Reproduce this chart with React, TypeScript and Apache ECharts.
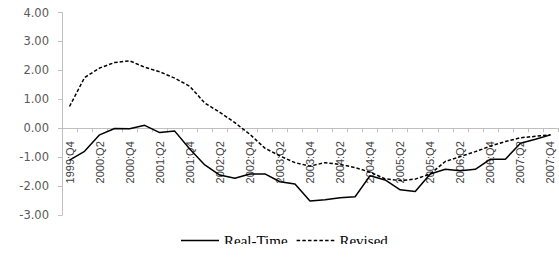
import React, { useEffect, useRef } from "react";
import * as echarts from "echarts";

const categories: string[] = [
  "1999:Q4",
  "2000:Q1", "2000:Q2", "2000:Q3", "2000:Q4",
  "2001:Q1", "2001:Q2", "2001:Q3", "2001:Q4",
  "2002:Q1", "2002:Q2", "2002:Q3", "2002:Q4",
  "2003:Q1", "2003:Q2", "2003:Q3", "2003:Q4",
  "2004:Q1", "2004:Q2", "2004:Q3", "2004:Q4",
  "2005:Q1", "2005:Q2", "2005:Q3", "2005:Q4",
  "2006:Q1", "2006:Q2", "2006:Q3", "2006:Q4",
  "2007:Q1", "2007:Q2", "2007:Q3", "2007:Q4",
];

const realTime: number[] = [
  -1.1, -0.8, -0.23, -0.01, -0.02, 0.1, -0.15, -0.1,
  -0.72, -1.27, -1.62, -1.73, -1.58, -1.58, -1.85, -1.93,
  -2.52, -2.47, -2.4, -2.37, -1.64, -1.79, -2.13, -2.19,
  -1.58, -1.42, -1.47, -1.42, -1.07, -1.07, -0.52, -0.38, -0.23,
];

const revised: number[] = [
  0.75, 1.75, 2.08, 2.27, 2.33, 2.11, 1.95, 1.73,
  1.45, 0.87, 0.55, 0.19, -0.21, -0.69, -0.96, -1.19,
  -1.31, -1.19, -1.25, -1.36, -1.52, -1.75, -1.81, -1.76,
  -1.58, -1.15, -0.98, -0.81, -0.62, -0.46, -0.33, -0.28, -0.23,
];

const seriesNames: string[] = ["Real-Time", "Revised"];

const Y_MIN = -3;
const Y_MAX = 4;
const GRID_TOP = 12.5;
const GRID_BOTTOM = 50;
const CHART_H = 265;

// legend icons: a solid bar and a row of short dashes
const SOLID_ICON = "path://M0,0h38v1.5h-38z";
const DASH_ICON =
  "path://" +
  [0, 5.7, 11.4, 17.1, 22.8, 28.5, 34.2]
    .map((x) => `M${x},0h3.5v1.5h-3.5z`)
    .join(" ");

export default function App() {
  const ref = useRef<HTMLDivElement>(null);

  useEffect(() => {
    if (!ref.current) return;
    const chart = echarts.init(ref.current, null, { renderer: "svg" });
    const gridH = CHART_H - GRID_TOP - GRID_BOTTOM;
    const zeroOffset = -(gridH * (0 - Y_MIN)) / (Y_MAX - Y_MIN);
    chart.setOption({
      animation: false,
      backgroundColor: "#ffffff",
      grid: {
        left: 62,
        right: 1,
        top: GRID_TOP,
        bottom: GRID_BOTTOM,
        containLabel: false,
        outerBoundsMode: "none",
      },
      legend: {
        data: [
          { name: seriesNames[0], icon: SOLID_ICON },
          { name: seriesNames[1], icon: DASH_ICON },
        ],
        left: 181,
        top: 233,
        padding: 0,
        itemWidth: 38,
        itemHeight: 1.5,
        itemGap: 9,
        itemStyle: { color: "#000", borderWidth: 0 },
        textStyle: {
          fontFamily: "'Liberation Serif', 'Times New Roman', serif",
          fontSize: 15,
          color: "#000",
        },
      },
      xAxis: {
        type: "category",
        data: categories,
        boundaryGap: true,
        position: "bottom",
        offset: zeroOffset,
        axisLine: { onZero: false, lineStyle: { color: "#bfbfbf", width: 1 } },
        axisTick: { show: true, interval: 0, length: 4, lineStyle: { color: "#bfbfbf" } },
        axisLabel: {
          interval: 1,
          rotate: 90,
          margin: 13,
          fontSize: 11,
          color: "#404040",
          fontFamily: "'Liberation Sans Narrow', 'Arial Narrow', 'Liberation Sans', sans-serif",
        },
        splitLine: { show: false },
      },
      yAxis: {
        type: "value",
        min: Y_MIN,
        max: Y_MAX,
        interval: 1,
        axisLine: { show: true, lineStyle: { color: "#bfbfbf", width: 1 } },
        axisTick: { show: true, length: 4, lineStyle: { color: "#bfbfbf" } },
        axisLabel: {
          margin: 13,
          fontSize: 11.5,
          color: "#595959",
          fontFamily: "'DejaVu Sans', Verdana, sans-serif",
          formatter: (v: number) => v.toFixed(2),
        },
        splitLine: { show: false },
      },
      series: [
        {
          name: seriesNames[0],
          type: "line",
          data: realTime,
          symbol: "none",
          lineStyle: { color: "#000", width: 1.5, type: "solid" },
          itemStyle: { color: "#000" },
        },
        {
          name: seriesNames[1],
          type: "line",
          data: revised,
          symbol: "none",
          lineStyle: { color: "#000", width: 1.5, type: [3.5, 2] },
          itemStyle: { color: "#000" },
        },
      ],
      graphic: [
        {
          type: "rect",
          left: 0,
          top: 244,
          shape: { width: 559, height: 21 },
          style: { fill: "#ffffff" },
          z: 100,
        },
      ],
    });
    return () => chart.dispose();
  }, []);

  return (
    <div
      ref={ref}
      style={{ position: "fixed", left: 0, top: 0, width: 559, height: 265 }}
    />
  );
}
